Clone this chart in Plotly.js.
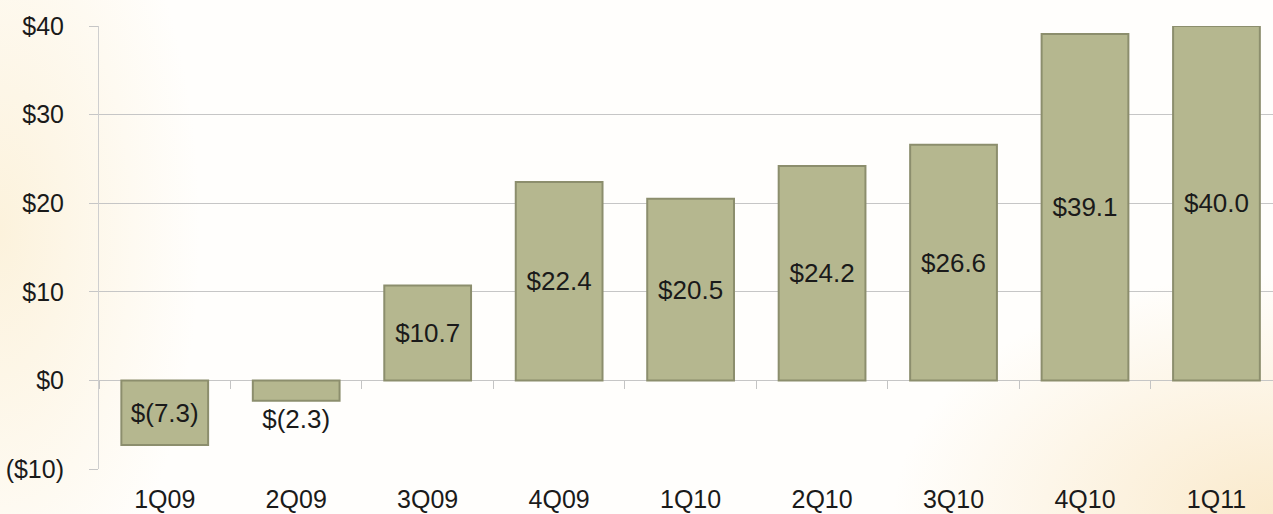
<!DOCTYPE html>
<html>
<head>
<meta charset="utf-8">
<script src="https://cdn.plot.ly/plotly-3.0.1.min.js"></script>
<style>
html, body { margin: 0; padding: 0; width: 1273px; height: 514px; overflow: hidden; }
body {
  background:
    radial-gradient(ellipse 200px 420px at 0% 45%, rgba(252,242,220,1) 0%, rgba(252,242,220,0) 100%),
    radial-gradient(ellipse 380px 240px at 100% 100%, rgba(250,234,204,1) 0%, rgba(250,234,204,0) 100%),
    #fffefc;
}
#chart { width: 1273px; height: 514px; }
</style>
</head>
<body>
<div id="chart"></div>
<script>
const categories = ['1Q09', '2Q09', '3Q09', '4Q09', '1Q10', '2Q10', '3Q10', '4Q10', '1Q11'];
const values = [-7.3, -2.3, 10.7, 22.4, 20.5, 24.2, 26.6, 39.1, 40.0];
const yTickVals = [-10, 0, 10, 20, 30, 40];
const yTickText = ['($10)', '$0', '$10', '$20', '$30', '$40'];

const labels = values.map(v => v < 0 ? '$(' + Math.abs(v).toFixed(1) + ')' : '$' + v.toFixed(1));
const textPos = values.map(v => Math.abs(v) < 4 ? 'outside' : 'inside');

const bar = {
  type: 'bar',
  x: categories,
  y: values,
  text: labels,
  textposition: textPos,
  insidetextanchor: 'middle',
  textangle: 0,
  constraintext: 'none',
  cliponaxis: false,
  textfont: { family: 'Liberation Sans, Arial, sans-serif', size: 26, color: '#1a1a1a' },
  marker: { color: '#b5b78f', line: { color: '#8c8e6d', width: 2 } },
  hoverinfo: 'x+y',
  showlegend: false
};

// invisible trace that carries the category tick marks drawn on the zero line
const tickTrace = {
  type: 'scatter', x: categories, y: values, xaxis: 'x2', yaxis: 'y',
  mode: 'markers', marker: { opacity: 0 }, hoverinfo: 'skip', showlegend: false
};

const layout = {
  width: 1273, height: 514,
  margin: { l: 99, r: 0, t: 26, b: 45 },
  paper_bgcolor: 'rgba(0,0,0,0)',
  plot_bgcolor: 'rgba(0,0,0,0)',
  bargap: 0.34,
  font: { family: 'Liberation Sans, Arial, sans-serif', color: '#1a1a1a' },
  xaxis: {
    type: 'category',
    range: [-0.5, 8.43],
    showgrid: false, zeroline: false, showline: false,
    ticks: '',
    tickfont: { size: 25, color: '#1a1a1a' },
    ticklabelstandoff: 13
  },
  xaxis2: {
    type: 'category', overlaying: 'x', anchor: 'free', position: 0.2,
    range: [-0.5, 8.43],
    showgrid: false, zeroline: false, showline: false, showticklabels: false,
    ticks: 'outside', ticklen: 8, tickcolor: '#c4c4c4', tickwidth: 1,
    tickson: 'boundaries'
  },
  yaxis: {
    range: [-10, 40],
    tickvals: yTickVals, ticktext: yTickText,
    showgrid: true, gridcolor: '#c6c6c6', gridwidth: 1,
    zeroline: false,
    showline: true, linecolor: '#cfcfcf', linewidth: 1,
    ticks: 'outside', ticklen: 9, tickcolor: '#c6c6c6',
    tickfont: { size: 25, color: '#1a1a1a' },
    ticklabelstandoff: 20
  }
};

Plotly.newPlot('chart', [bar, tickTrace], layout, { displayModeBar: false, staticPlot: true });
</script>
</body>
</html>
